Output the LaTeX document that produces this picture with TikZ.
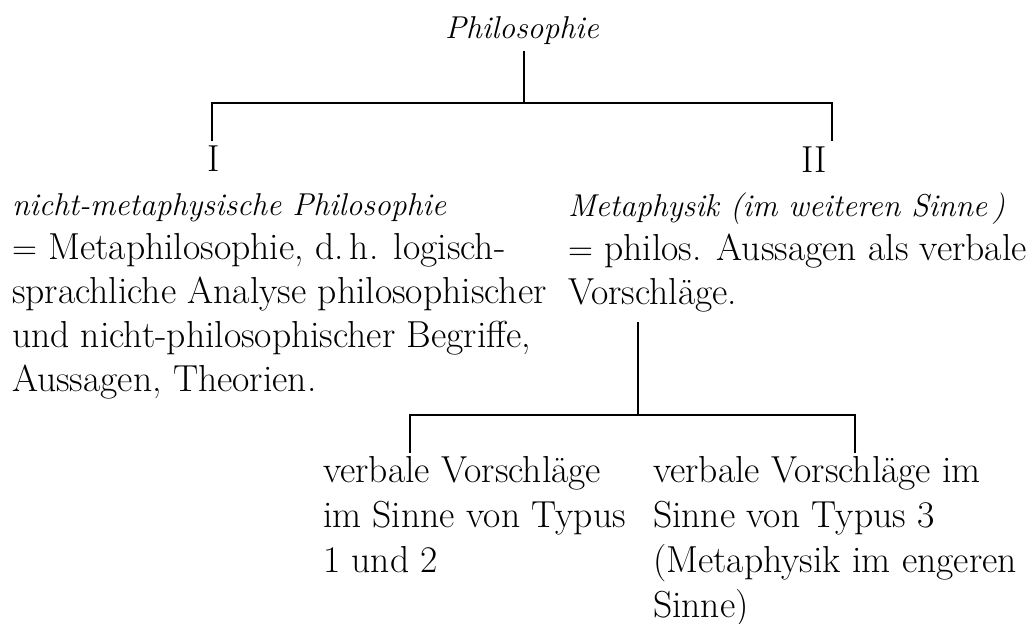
\documentclass[tikz,border=0pt]{standalone}
\begin{document}
\begin{tikzpicture}[x=0.5pt,y=-0.5pt,
  txt/.style={inner sep=0pt,outer sep=0pt,font=\fontsize{18.8pt}{22pt}\selectfont},
  ital/.style={txt,font=\fontsize{15.8pt}{22pt}\selectfont\itshape},
  block/.style={txt,align=left,anchor=base west},
  lowblock/.style={block,font=\fontsize{18.8pt}{22.5pt}\selectfont},
  conn/.style={line width=1pt,line cap=butt}]
\newcommand{\itl}[1]{{\fontsize{15.8pt}{22pt}\selectfont\itshape #1}}
\useasboundingbox (0,0) rectangle (1034,623);
% title
\node[ital,anchor=base] (phil) at (522,38) {Philosophie};
\coordinate (b1) at (524,103);
\coordinate (lI) at (212,141);
\coordinate (lII) at (832,141);
\draw[conn] ([yshift=-3.5pt]phil.south -| b1) -- (b1);
\draw[conn] (lI) |- (b1) -| (lII);
% numerals
\node[txt,anchor=base] (nI) at (214,171) {I};
\node[txt,anchor=base] (nII) at (814,172) {II};
% blocks (base anchor = baseline of the last line)
\node[block] (left) at (12,391) {\itl{nicht-metaphysische Philosophie}\\
$=$ Metaphilosophie, d.\,h. logisch-\\
sprachliche Analyse philosophischer\\
und nicht-philosophischer Begriffe,\\
Aussagen, Theorien.};
\node[block] (right) at (568,304) {\itl{Metaphysik (im weiteren Sinne\,)}\\
$=$ philos. Aussagen als verbale\\
Vorschläge.};
% lower tree
\coordinate (t2) at (638,322);
\coordinate (b2) at (638,415);
\coordinate (l1) at (410,453);
\coordinate (l2) at (855,453);
\draw[conn] (t2) -- (b2);
\draw[conn] (l1) |- (b2) -| (l2);
\node[lowblock] (low1) at (323,572) {verbale Vorschläge\\
im Sinne von Typus\\
1 und 2};
\node[lowblock] (low2) at (653,617) {verbale Vorschläge im\\
Sinne von Typus 3\\
(Metaphysik im engeren\\
Sinne)};
\end{tikzpicture}
\end{document}
